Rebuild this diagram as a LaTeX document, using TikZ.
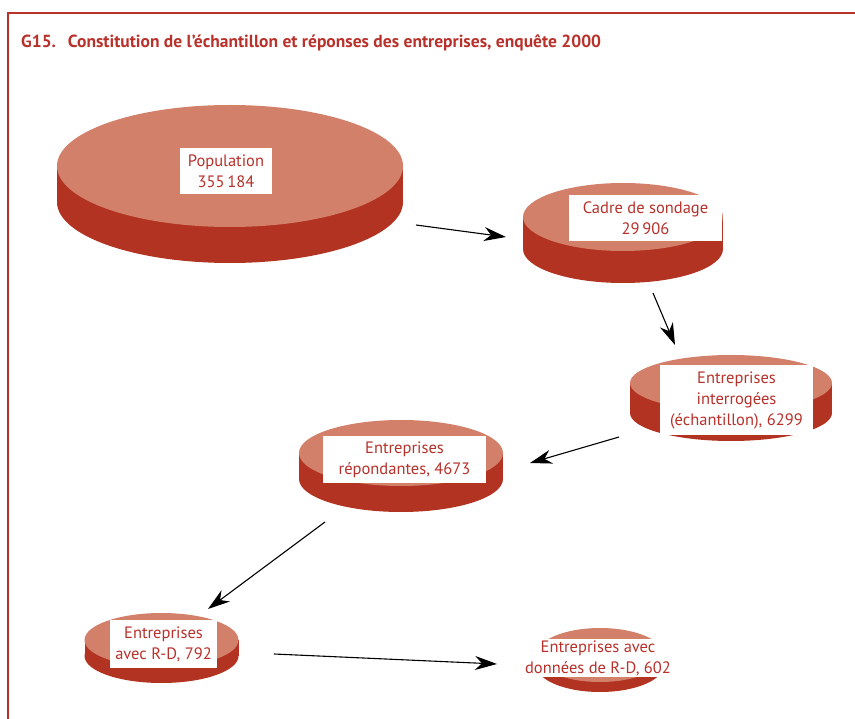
\documentclass[tikz,border=0pt]{standalone}
\usepackage{fontspec}
\setmainfont{PT Sans}
\usetikzlibrary{arrows.meta}
\definecolor{framered}{HTML}{B8322A}
\definecolor{textred}{HTML}{B8312B}
\definecolor{disktop}{HTML}{D3806A}
\definecolor{diskside}{HTML}{B23321}
% \disk{cx}{cy}{rx}{ry}{thickness}: a flat cylinder seen from above
\newcommand{\disk}[5]{%
  \fill[diskside] (#1,#2+#5) ellipse [x radius=#3pt, y radius=#4pt];
  \fill[diskside] (#1-#3,#2) rectangle (#1+#3,#2+#5);
  \fill[disktop] (#1,#2) ellipse [x radius=#3pt, y radius=#4pt];
}
\tikzset{
  lbl/.style={fill=white, text=textred, align=center, inner sep=0pt,
    font=\fontsize{16.5}{21}\selectfont},
  flow/.style={line width=1.1pt, -{Stealth[length=22pt, width=14pt, inset=7pt]}},
}
\begin{document}
\begin{tikzpicture}[x=1pt, y=-1pt]
\useasboundingbox (0,0) rectangle (855,719);
% frame
\draw[framered, line width=2pt] (7.5,719) -- (7.5,13.5) -- (855,13.5);
% title
\node[anchor=base west, text=textred, inner sep=0pt,
  font=\fontsize{17.5}{20}\selectfont\bfseries] (title) at (21,48)
  {G15.\hspace{12pt}Constitution de l’échantillon et réponses des entreprises, enquête 2000};
% disks
\disk{230}{166}{173}{61}{36}
\disk{623}{217}{100}{34}{32}
\disk{731}{383}{101}{28}{30}
\disk{401}{453}{102}{33}{26}
\disk{161.5}{640}{77}{27}{16}
\disk{600}{655}{64}{27}{10}
% labels
\node[lbl, minimum width=92pt, minimum height=46pt] (pop) at (226,171) {Population\\355\,184};
\node[lbl, minimum width=153pt, minimum height=46pt] (cadre) at (645.5,218) {Cadre de sondage\\29\,906};
\node[lbl, minimum width=153pt, minimum height=70pt] (inter) at (736.5,400) {Entreprises\\interrogées\\(échantillon), 6299};
\node[lbl, minimum width=163pt, minimum height=47pt] (rep) at (404.5,459.5) {Entreprises\\répondantes, 4673};
\node[lbl, minimum width=107pt, minimum height=48pt] (rd) at (163.5,644) {Entreprises\\avec R-D, 792};
\node[lbl, minimum width=150pt, minimum height=38pt] (don) at (598,658) {Entreprises avec\\données de R-D, 602};
% arrow end points
\coordinate (a1s) at (416,225); \coordinate (a1e) at (506,237);
\coordinate (a2s) at (653,293); \coordinate (a2e) at (675,345);
\coordinate (a3s) at (619,437); \coordinate (a3e) at (530,463);
\coordinate (a4s) at (325,522); \coordinate (a4e) at (208,609);
\coordinate (a5s) at (274,654); \coordinate (a5e) at (497,664);
\draw[flow] (a1s) -- (a1e);
\draw[flow] (a2s) -- (a2e);
\draw[flow] (a3s) -- (a3e);
\draw[flow] (a4s) -- (a4e);
\draw[flow] (a5s) -- (a5e);
\end{tikzpicture}
\end{document}
